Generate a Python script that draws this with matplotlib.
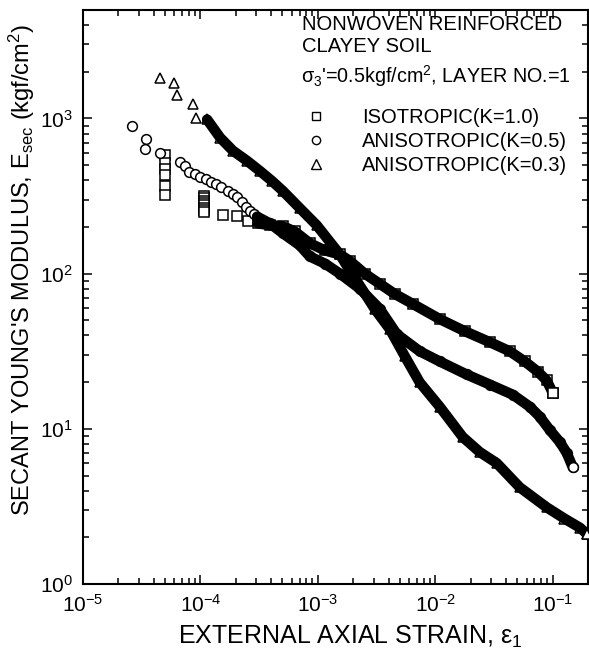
import matplotlib
matplotlib.use('Agg')
import matplotlib.pyplot as plt
from matplotlib.lines import Line2D

plt.rcParams.update({
    'font.family': ['Liberation Sans', 'DejaVu Sans'],
    'mathtext.fontset': 'custom',
    'mathtext.rm': 'Liberation Sans',
    'mathtext.it': 'Liberation Sans:italic',
    'mathtext.bf': 'Liberation Sans:bold',
    'mathtext.sf': 'Liberation Sans',
    'axes.unicode_minus': False,
})

# ---------------- data ----------------
# ISOTROPIC (K=1.0): isolated early points, then the dense band
iso_pts_x = [5.0e-5, 5.0e-5, 5.0e-5, 5.0e-5, 5.0e-5, 5.0e-5,
             1.07e-4, 1.07e-4, 1.07e-4, 1.07e-4, 1.07e-4, 1.07e-4, 1.07e-4, 1.07e-4,
             1.55e-4, 2.05e-4, 2.53e-4]
iso_pts_y = [580, 520, 470, 433, 367, 321,
             315, 305, 295, 285, 275, 265, 256, 248,
             238, 234, 220]
iso_band_x = [3.08e-4, 3.90e-4, 5.04e-4, 6.37e-4, 8.55e-4, 1.15e-3, 1.54e-3,
              1.87e-3, 2.51e-3, 3.37e-3, 4.52e-3, 6.44e-3, 0.0109, 0.0178,
              0.0291, 0.0431, 0.0578, 0.0745, 0.0889, 0.100]
iso_band_y = [211, 205, 202, 187, 157, 141, 133, 121, 100, 86, 74, 63.8,
              51, 42.6, 36.2, 31.6, 27.2, 23.4, 20.5, 17.1]

# ANISOTROPIC (K=0.5)
k05_pts_x = [2.61e-5, 3.43e-5, 3.38e-5, 4.52e-5,
             6.70e-5, 7.38e-5, 8.03e-5, 8.97e-5, 9.90e-5, 1.11e-4, 1.24e-4,
             1.37e-4, 1.51e-4, 1.72e-4, 1.90e-4, 2.06e-4, 2.24e-4, 2.44e-4,
             2.64e-4, 2.85e-4]
k05_pts_y = [900, 740, 635, 600,
             526, 494, 454, 436, 417, 405, 391,
             378, 363, 342, 326, 310, 291, 270,
             254, 242]
k05_band_x = [3.04e-4, 3.90e-4, 5.04e-4, 7.03e-4, 8.55e-4, 1.15e-3, 1.54e-3,
              2.28e-3, 3.37e-3, 4.70e-3, 7.38e-3, 0.0109, 0.0185, 0.0291,
              0.0457, 0.0637, 0.0775, 0.0942, 0.115, 0.132, 0.148]
k05_band_y = [233, 211, 182, 152, 129, 116, 100, 80, 59.3, 40.8, 31.6, 27.2,
              22.4, 19.3, 16.6, 13.9, 12.0, 9.86, 8.23, 6.98, 5.67]

# ANISOTROPIC (K=0.3)
k03_pts_x = [4.52e-5, 5.94e-5, 6.31e-5, 8.63e-5, 9.16e-5]
k03_pts_y = [1820, 1690, 1410, 1233, 1000]
k03_band_x = [1.14e-4, 1.47e-4, 1.89e-4, 2.49e-4, 3.21e-4, 4.06e-4, 5.04e-4,
              7.03e-4, 9.79e-4, 1.26e-3, 1.54e-3, 1.87e-3, 2.28e-3, 3.05e-3,
              4.10e-3, 5.50e-3, 7.38e-3, 0.0109, 0.0171, 0.0239, 0.0334,
              0.0524, 0.0889, 0.126, 0.170, 0.195]
k03_band_y = [985, 753, 620, 534, 459, 396, 341, 264, 205, 161, 133, 105,
              83.6, 59.3, 43.9, 29.4, 19.9, 13.9, 8.87, 7.09, 6.01, 4.20,
              3.12, 2.64, 2.31, 2.11]

series = [
    ('ISOTROPIC(K=1.0)', 's', iso_pts_x, iso_pts_y, iso_band_x, iso_band_y),
    ('ANISOTROPIC(K=0.5)', 'o', k05_pts_x, k05_pts_y, k05_band_x, k05_band_y),
    ('ANISOTROPIC(K=0.3)', '^', k03_pts_x, k03_pts_y, k03_band_x, k03_band_y),
]
marker_size = {'s': 6.6, 'o': 7.0, '^': 7.8}

# ---------------- figure ----------------
W, H = 589, 656
fig = plt.figure(figsize=(W / 100, H / 100), dpi=100)
ax = fig.add_axes([83 / W, 1 - 584 / H, (588 - 83) / W, (584 - 10) / H])

for label, mk, px, py, bx, by in series:
    ms = marker_size[mk]
    ax.plot(px + bx, py + by, linestyle='none', marker=mk, ms=ms,
            mfc='white', mec='black', mew=1.1, zorder=2)
    ax.plot(bx, by, color='black', lw=7.5, solid_capstyle='round',
            solid_joinstyle='round', zorder=3)
    ax.plot(bx[-1:], by[-1:], linestyle='none', marker=mk, ms=ms,
            mfc='white', mec='black', mew=1.1, zorder=4)

ax.set_xscale('log')
ax.set_yscale('log')
ax.set_xlim(1e-5, 0.2)
ax.set_ylim(1, 5000)

for s in ax.spines.values():
    s.set_linewidth(1.5)
ax.tick_params(which='both', direction='in', top=True, right=True,
               labelsize=15, width=1.1)
ax.tick_params(which='major', length=6.5, pad=7)
ax.tick_params(which='minor', length=4)

ax.set_xlabel('EXTERNAL AXIAL STRAIN, ε$_{\\mathregular{1}}$', fontsize=18)
ax.xaxis.set_label_coords(0.53, -0.070)
ax.xaxis.label.set_va('top')
ax.set_ylabel("SECANT YOUNG'S MODULUS, E$_{\\mathregular{sec}}$ (kgf/cm$^{\\mathregular{2}}$)",
              fontsize=17)
ax.yaxis.set_label_coords(-0.091, 0.547)

# header text
fig.text(302 / W, 1 - 30 / H, 'NONWOVEN REINFORCED', fontsize=14.6, va='baseline')
fig.text(302 / W, 1 - 52 / H, 'CLAYEY SOIL', fontsize=14.6, va='baseline')
fig.text(301 / W, 1 - 83 / H, "σ$_{\\mathregular{3}}$'=0.5kgf/cm$^{\\mathregular{2}}$, LAYER NO.=1",
         fontsize=14.2, va='baseline')

handles = [Line2D([], [], linestyle='none', marker=mk, ms=marker_size[mk] * 0.85,
                  mfc='white', mec='black', mew=1.0, label=label)
           for label, mk, *_ in series]
fig.legend(handles=handles, loc='upper left',
           bbox_to_anchor=(306 / W, 1 - 108 / H), frameon=False,
           fontsize=14.5, handlelength=1.0, handletextpad=1.8,
           borderpad=0, borderaxespad=0, labelspacing=0.25)

fig.savefig('out.png', dpi=100)
